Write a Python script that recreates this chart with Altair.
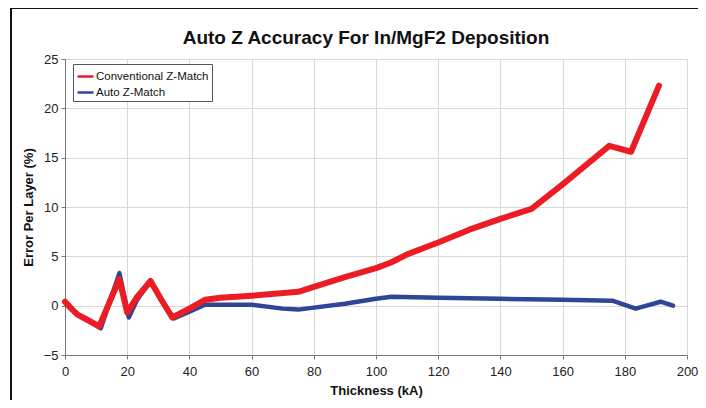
import altair as alt
import pandas as pd

conv_x = [0, 2, 4, 7, 11, 14.5, 17.5, 20, 23, 27.5, 31, 34.5, 40, 45, 50, 60, 75, 80, 90, 100, 105, 110, 120, 130, 140, 150, 160, 175, 182, 191]
conv_y = [0.4, -0.3, -0.9, -1.4, -2.1, 0.5, 2.7, -0.7, 0.8, 2.5, 0.6, -1.2, -0.3, 0.6, 0.8, 1.0, 1.4, 1.9, 2.9, 3.8, 4.4, 5.2, 6.4, 7.7, 8.8, 9.8, 12.3, 16.2, 15.6, 22.3]

auto_x = [0, 2, 4, 7, 11.5, 14.5, 17.5, 20.5, 23, 27.5, 31, 35, 40, 45, 50, 60, 70, 75, 80, 90, 100, 105, 120, 140, 160, 176, 183.5, 187, 191.5, 195.5]
auto_y = [0.4, -0.2, -0.9, -1.4, -2.3, 0.5, 3.3, -1.2, 0.5, 2.5, 0.5, -1.3, -0.6, 0.1, 0.1, 0.1, -0.3, -0.4, -0.2, 0.2, 0.7, 0.9, 0.8, 0.7, 0.6, 0.5, -0.3, 0.0, 0.4, 0.0]

series_names = ["Conventional Z-Match", "Auto Z-Match"]
series_colors = ["#ec1c24", "#2f4598"]

df = pd.concat([
    pd.DataFrame({"x": auto_x, "y": auto_y, "series": series_names[1], "order": range(len(auto_x)), "layer": 0}),
    pd.DataFrame({"x": conv_x, "y": conv_y, "series": series_names[0], "order": range(len(conv_x)), "layer": 1}),
])

FONT = "Liberation Sans"

xenc = alt.X("x:Q", scale=alt.Scale(domain=[0, 200], nice=False),
             axis=alt.Axis(values=list(range(0, 201, 20)), title="Thickness (kA)", labelFlush=False))
yenc = alt.Y("y:Q", scale=alt.Scale(domain=[-5, 25], nice=False),
             axis=alt.Axis(values=list(range(-5, 26, 5)), title="Error Per Layer (%)"))

color = alt.Color("series:N", scale=alt.Scale(domain=series_names, range=series_colors),
                  legend=alt.Legend(title=None, orient="none", legendX=8, legendY=5,
                                    symbolType="stroke", symbolStrokeWidth=2.5, symbolSize=256,
                                    labelFont=FONT, labelFontSize=11.5, labelColor="#111",
                                    padding=3, rowPadding=1, strokeColor="#555", fillColor="white",
                                    labelOffset=1, labelLimit=200))

blue = alt.Chart(df[df.layer == 0]).mark_line(strokeWidth=4.5, strokeCap="round", strokeJoin="round").encode(
    x=xenc, y=yenc, color=color, order="order:Q")
red = alt.Chart(df[df.layer == 1]).mark_line(strokeWidth=6, strokeCap="round", strokeJoin="round").encode(
    x=xenc, y=yenc, color=color, order="order:Q")

frame = alt.Chart(pd.DataFrame({"a": [0]})).mark_rect(fill=None, stroke="#111", strokeWidth=2).encode(
    x=alt.value(-54), x2=alt.value(700), y=alt.value(-51), y2=alt.value(400))

chart = alt.layer(frame, blue, red).properties(
    width=622, height=296,
    autosize=alt.AutoSizeParams(type="none"),
    padding={"left": 57, "top": 51, "right": 11, "bottom": 45},
    title=alt.TitleParams("Auto Z Accuracy For In/MgF2 Deposition", font=FONT, fontSize=19,
                          fontWeight="bold", color="#111", anchor="middle", offset=13, dx=-10, dy=54),
).configure_view(stroke=None).configure_axis(
    labelFont=FONT, labelFontSize=13, labelColor="#222",
    titleFont=FONT, titleFontSize=13, titleFontWeight="bold", titleColor="#111",
    gridColor="#d8d8d8", gridWidth=1, domainColor="#777", tickColor="#777", tickSize=4,
).configure_axisX(labelPadding=6, titlePadding=6).configure_axisY(labelPadding=3, titlePadding=8)

chart.save("out.html", embed_options={"renderer": "svg", "actions": False})
